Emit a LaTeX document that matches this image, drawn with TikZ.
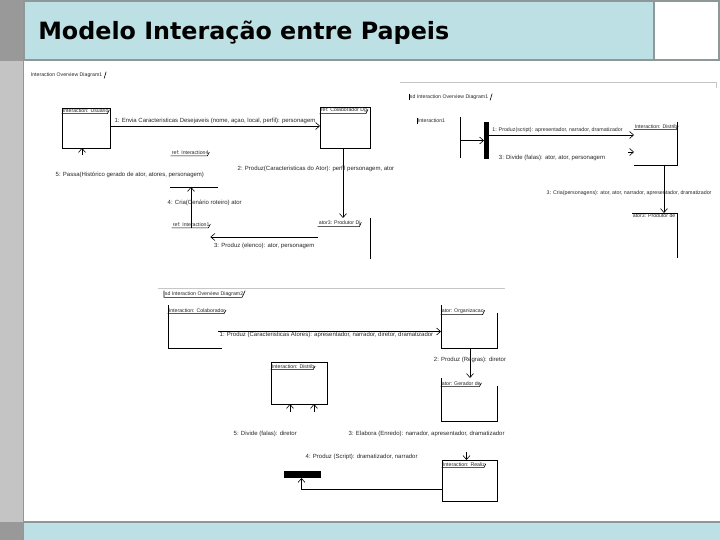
\documentclass[tikz,border=0pt]{standalone}
\usepackage{fontspec}
\setmainfont{Liberation Sans}
\newfontfamily\titlefont{DejaVu Sans}
\usepackage{xcolor}
\usepackage{tikz}
\usetikzlibrary{arrows.meta,calc,positioning}
\definecolor{barblue}{HTML}{BCE0E3}
\definecolor{edgegray}{HTML}{8E9898}
\definecolor{stripgray}{HTML}{C4C4C4}
\definecolor{stripdark}{HTML}{999999}
\newcommand{\tagline}[1]{\draw ([xshift=-0.5pt]#1.south west) -- ([xshift=-2pt]#1.south east) -- ([yshift=1pt]#1.east);}

\begin{document}
\begin{tikzpicture}[x=1pt,y=-1pt,line width=0.6pt,
    box/.style={anchor=north west,inner sep=0pt,outer sep=0pt},
    msg/.style={font=\fontsize{6}{7}\selectfont,text=black!85,inner sep=0.4pt},
    small/.style={font=\fontsize{5.3}{6}\selectfont},
    tag/.style={font=\fontsize{5.2}{6}\selectfont,text=black!85,inner sep=0.6pt,anchor=west},
    flow/.style={-{Straight Barb[length=4pt,width=7pt]}},
    slide/.style={edgegray,line width=1.2pt}]
  \useasboundingbox (0,0) rectangle (720,540);
  % slide frame
  \fill[stripgray] (0,0) rectangle (24,540);
  \fill[stripdark] (0,0) rectangle (23,61);
  \fill[stripdark] (0,522) rectangle (23,540);
  \fill[barblue] (24,1) rectangle (654,60);
  \fill[barblue] (24,522) rectangle (720,540);
  \draw[slide] (24,1) rectangle (654,60);
  \draw[slide] (654,1) rectangle (719,60);
  \draw[slide] (24,522) -- (720,522);
  \draw[edgegray,line width=1pt] (23.5,0) -- (23.5,540);
  \node[anchor=base west,inner sep=0pt,font=\titlefont\bfseries\fontsize{23.8}{27}\selectfont] (title) at (38,40) {Modelo Interação entre Papeis};

  % diagram 1
  \node[tag] (dg1) at (30,75) {Interaction Overview Diagram1};
  \draw ([xshift=1pt]dg1.south east) -- ([xshift=3pt]dg1.north east);
  \node[box,draw,minimum width=48pt,minimum height=40pt] (usr) at (62,108) {};
  \node[tag,anchor=north west] (usrT) at (usr.north west) {Interaction: Usuario};
  \tagline{usrT}
  \node[box,draw,minimum width=50pt,minimum height=41pt] (colab) at (320,107) {};
  \node[tag,anchor=north west] (colabT) at (colab.north west) {ref: Colaborador Dg};
  \tagline{colabT}
  \draw[flow] ([yshift=2pt]usr.east) -- ([yshift=2pt]usr.east -| colab.west)
    node[msg,midway,above=1.5pt] {1: Envia Caracteristicas Desejaveis (nome, açao, local, perfil): personagem};
  \node[tag] (ref4) at (171,153) {ref: Interaction4};
  \tagline{ref4}
  \node[box,minimum width=52pt,minimum height=41pt] (prod) at (318,218) {};
  \node[tag,anchor=north west] (prodT) at ([yshift=-2pt]prod.north west) {ator3: Produtor Dj};
  \tagline{prodT}
  \draw (prod.north east) -- (prod.south east);
  \draw[flow] ([xshift=-2pt]colab.south) -- ([xshift=-2pt]colab.south |- prod.north);
  \node[msg] (m2) at (316,169) {2: Produz(Caracteristicas do Ator): perfil personagem, ator};
  \node[tag] (intr) at (172,225) {ref: Interaction1};
  \tagline{intr}
  \draw[flow] ([yshift=-19pt]prod.north west) -- ([yshift=-19pt]prod.north west -| intr.east)
    node[msg,midway,below=5pt] {3: Produz (elenco): ator, personagem};
  \coordinate (crA) at (191,187);
  \draw ([xshift=-21pt]crA) -- ([xshift=27pt]crA);
  \draw[flow] (intr.south -| crA) -- (crA);
  \node[msg,anchor=west] (m4) at (167,203) {4: Cria(Cenário roteiro) ator};
  \node[msg,anchor=west] (m5) at (55,175) {5: Passa(Histórico gerado de ator, atores, personagem)};
  \draw[flow] ([xshift=-4pt,yshift=-7pt]usr.south) -- ([xshift=-4pt]usr.south);

  % diagram 2
  \draw[gray!45,thin] (400,82) -- (716,82) -- (716,88);
  \node[tag] (dg2) at (409,97) {sd Interaction Overview Diagram1};
  \draw (dg2.north west) -- (dg2.south west);
  \draw ([xshift=1pt]dg2.south east) -- ([xshift=3pt]dg2.north east);
  \node[box,minimum width=43pt,minimum height=41pt] (in1) at (417,117) {};
  \node[tag,anchor=north west] (in1T) at ([yshift=-1pt]in1.north west) {Interaction1};
  \draw (in1T.north west) -- (in1T.south west);
  \draw (in1.north east) -- (in1.south east);
  \node[box,fill=black,minimum width=5pt,minimum height=37pt] (fork1) at (484,122) {};
  \draw[flow] ([yshift=-3pt]in1.east) -- ([yshift=-3pt]in1.east -| fork1.west);
  \node[box,minimum width=43pt,minimum height=43pt] (dist) at (634,122) {};
  \node[tag,anchor=north west] (distT) at ([yshift=-2pt]dist.north west) {Interaction: Distrib};
  \tagline{distT}
  \draw (dist.north east) |- (dist.south west);
  \draw[flow] ([yshift=-13pt]fork1.north east) -- ([yshift=-13pt]fork1.north east -| dist.west)
    node[msg,small,midway,above=2pt,xshift=-4pt] {1: Produz(script): apresentador, narrador, dramatizador};
  \draw[flow] ([xshift=-6pt,yshift=-30pt]dist.north west) -- ([yshift=-30pt]dist.north west);
  \node[msg] (m3b) at (552,158) {3: Divide (falas): ator, ator, personagem};
  \node[box,minimum width=45pt,minimum height=45pt] (prod2) at (632,213) {};
  \node[tag,anchor=north west] (prod2T) at (prod2.north west) {ator3: Produtor de};
  \draw (prod2.north west) -| (prod2.south east);
  \draw[flow] ([xshift=-13pt]dist.south east) -- ([xshift=-13pt]dist.south east |- prod2.north);
  \node[msg,small,anchor=west] (m3c) at (546,193) {3: Cria(personagens): ator, ator, narrador, apresentador, dramatizador};

  % diagram 3
  \draw[gray!45,thin] (158,288) -- (505,288);
  \node[tag] (dg3) at (164,294) {sd Interaction Overview Diagram2};
  \draw (dg3.north west) -- (dg3.south west) -- ([xshift=-2pt]dg3.south east) -- ([xshift=1pt]dg3.north east);
  \node[box,minimum width=54pt,minimum height=43pt] (col2) at (168,305) {};
  \node[tag,anchor=north west] (col2T) at ([yshift=-3pt]col2.north west) {Interaction: Colaborador};
  \tagline{col2T}
  \draw (col2.north west) |- (col2.south east);
  \node[box,minimum width=56pt,minimum height=43pt] (org) at (441,305) {};
  \node[tag,anchor=north west] (orgT) at ([yshift=-3pt]org.north west) {ator: Organizacao};
  \tagline{orgT}
  \draw (org.north west) |- (org.south east) -- ([yshift=-8pt]org.north east);
  \draw[flow] ([xshift=-4pt,yshift=-5pt]col2.east) -- ([yshift=-5pt]col2.east -| org.west)
    node[msg,midway,below=0.3pt,xshift=-3pt] {1: Produz (Caracteristicas Atores): apresentador, narrador, diretor, dramatizador};
  \node[box,minimum width=56pt,minimum height=43pt] (ger) at (441,378) {};
  \node[tag,anchor=north west] (gerT) at ([yshift=-3pt]ger.north west) {ator: Gerador de};
  \tagline{gerT}
  \draw (ger.north west) |- (ger.south east) -- ([yshift=-8pt]ger.north east);
  \draw[flow] ([xshift=-27pt]org.south east) -- ([xshift=-27pt]org.south east |- ger.north);
  \node[msg] (m2b) at (470,360) {2: Produz (Regras): diretor};
  \node[box,draw,minimum width=56pt,minimum height=42pt] (dist3) at (271,362) {};
  \node[tag,anchor=north west] (dist3T) at ([yshift=-2pt]dist3.north west) {Interaction: Distrib};
  \tagline{dist3T}
  \draw[flow] ([xshift=-9pt,yshift=-8pt]dist3.south) -- ([xshift=-9pt]dist3.south);
  \draw[flow] ([xshift=15pt,yshift=-8pt]dist3.south) -- ([xshift=15pt]dist3.south);
  \node[msg,anchor=west] (m5c) at (233,434) {5: Divide (falas): diretor};
  \node[msg,anchor=west] (m3d) at (348,434) {3: Elabora (Enredo): narrador, apresentador, dramatizador};
  \node[msg,anchor=west] (m4b) at (305,457) {4: Produz (Script): dramatizador, narrador};
  \node[box,draw,minimum width=55pt,minimum height=41pt] (realiz) at (442,460) {};
  \node[tag,anchor=north west] (realizT) at ([yshift=-2pt]realiz.north west) {Interaction: Realiz};
  \tagline{realizT}
  \draw[flow] ([xshift=-3pt,yshift=8pt]realiz.north) -- ([xshift=-3pt]realiz.north);
  \node[box,fill=black,minimum width=37pt,minimum height=7pt] (join1) at (284,471) {};
  \draw[flow] ([yshift=-8.5pt]realiz.west) -| ([xshift=-1pt]join1.south);
\end{tikzpicture}
\end{document}
